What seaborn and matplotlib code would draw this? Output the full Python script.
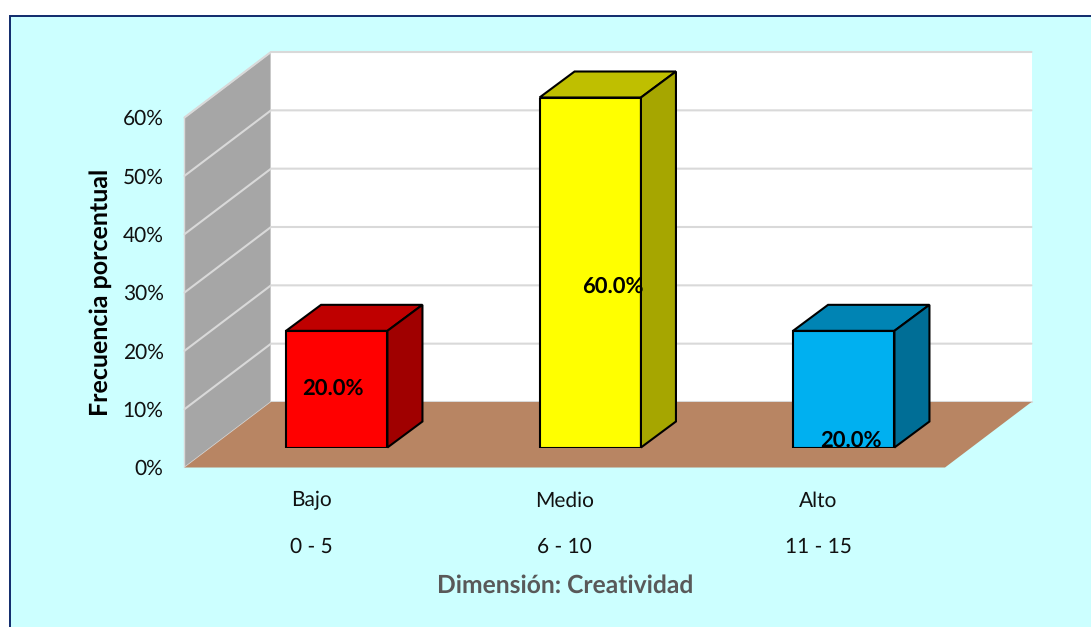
import numpy as np
import pandas as pd
import matplotlib
matplotlib.use("Agg")
import matplotlib.pyplot as plt
from matplotlib.patches import Polygon, Rectangle
import seaborn as sns

# datos
niveles = ["Bajo", "Medio", "Alto"]
rangos = ["0 - 5", "6 - 10", "11 - 15"]
porcentajes = [20.0, 60.0, 20.0]
ticks_y = [0, 10, 20, 30, 40, 50, 60]

colores = ["#FF0000", "#FFFF00", "#00B0F0"]
colores_top = ["#BF0000", "#BFBF00", "#0084B4"]
colores_lado = ["#A00000", "#A6A600", "#006E96"]

sns.set_style("white")
plt.rcParams["font.family"] = ["Lato", "DejaVu Sans"]
plt.rcParams["text.hinting"] = "no_hinting"

W, H = 1091, 627
fig = plt.figure(figsize=(W / 100, H / 100), dpi=100, facecolor="white")


def caja(x0, x1, y_top, y_bottom):
    # pixeles de la imagen -> rect de figura
    return [x0 / W, 1 - y_bottom / H, (x1 - x0) / W, (y_bottom - y_top) / H]


# fondo del grafico, se sale por la derecha y por abajo
fig.add_artist(Rectangle((9.5 / W, -0.05), 1.1, 1.05 - 15.5 / H, transform=fig.transFigure,
                         facecolor="#CCFFFF", edgecolor="#0F2A6B", linewidth=1.4, zorder=-1))

ax = fig.add_axes(caja(184.5, 945, 117.5, 467.5))
ax.set_facecolor("none")
ax.set_xlim(-0.5, 2.5)
ax.set_ylim(0, 60)

# escalas en px por unidad de datos
px_x = (945 - 184.5) / 3
px_y = 350 / 60
wall_dx, wall_dy = 86.5 / px_x, 65.5 / px_y
bar_dx, bar_dy = 35 / px_x, 26 / px_y

GRIS_GRID = "#D9D9D9"
x0, x1 = ax.get_xlim()

# pared lateral, pared del fondo y piso
ax.add_patch(Polygon([(x0, 0), (x0, 60), (x0 + wall_dx, 60 + wall_dy), (x0 + wall_dx, wall_dy)],
                     closed=True, facecolor="#A6A6A6", edgecolor=GRIS_GRID, linewidth=1, clip_on=False, zorder=1))
ax.add_patch(Polygon([(x0 + wall_dx, wall_dy), (x0 + wall_dx, 60 + wall_dy), (x1 + wall_dx, 60 + wall_dy), (x1 + wall_dx, wall_dy)],
                     closed=True, facecolor="white", edgecolor="none", clip_on=False, zorder=1))
ax.add_patch(Polygon([(x0, 0), (x0 + wall_dx, wall_dy), (x1 + wall_dx, wall_dy), (x1, 0)],
                     closed=True, facecolor="#B88563", edgecolor="none", clip_on=False, zorder=2))
for t in ticks_y[1:]:
    ax.plot([x0, x0 + wall_dx, x1 + wall_dx], [t, t + wall_dy, t + wall_dy], color=GRIS_GRID,
            linewidth=1.5, clip_on=False, zorder=1.5)
ax.plot([x0 + wall_dx, x1 + wall_dx], [wall_dy, wall_dy], color=GRIS_GRID, linewidth=1.5, clip_on=False, zorder=1.5)

ax.set_yticks(ticks_y)
ax.set_yticklabels([f"{t}%" for t in ticks_y])
ax.set_xticks(range(len(niveles)))
ax.set_xticklabels([f"{n}\n{r}" for n, r in zip(niveles, rangos)], linespacing=2.75)
ax.tick_params(axis="y", length=0, pad=15, labelsize=15, labelcolor="#111111")
ax.tick_params(axis="x", length=0, pad=17, labelsize=15, labelcolor="#111111")
ax.set_xlabel("Dimensión: Creatividad", fontsize=17.7, fontweight="bold", color="#595959", labelpad=13)
ax.set_ylabel("Frecuencia porcentual", fontsize=18, fontweight="bold", color="black", labelpad=8)
sns.despine(ax=ax, left=True, bottom=True)

# barras sobre un eje desplazado, plano medio de la profundidad
ax2 = fig.add_axes(caja(184.5 + 25.5, 945 + 25.5, 97.5, 447.5))
ax2.set_facecolor("none")
df = pd.DataFrame({"nivel": niveles, "pct": porcentajes})
sns.barplot(data=df, x="nivel", y="pct", hue="nivel", palette=colores, legend=False, order=niveles,
            width=0.4, edgecolor="black", linewidth=1.5, saturation=1, ax=ax2)
ax2.set_xlim(-0.5, 2.5)
ax2.set_ylim(0, 60)
ax2.axis("off")

for barra, c_top, c_lado in zip(list(ax2.patches), colores_top, colores_lado):
    xa, xb = barra.get_x(), barra.get_x() + barra.get_width()
    h = barra.get_height()
    ax2.add_patch(Polygon([(xa, h), (xa + bar_dx, h + bar_dy), (xb + bar_dx, h + bar_dy), (xb, h)], closed=True,
                          facecolor=c_top, edgecolor="black", linewidth=1.5, clip_on=False))
    ax2.add_patch(Polygon([(xb, 0), (xb + bar_dx, bar_dy), (xb + bar_dx, h + bar_dy), (xb, h)], closed=True,
                          facecolor=c_lado, edgecolor="black", linewidth=1.5, clip_on=False))

# etiquetas movidas a mano en el original
pos_x = [0 - 0.015, 1 + 0.09, 2 + 0.03]
pos_y = [10.1, 27.6, 1.2]
for xp, yp, v in zip(pos_x, pos_y, porcentajes):
    ax2.text(xp, yp, f"{v:.1f}%", ha="center", va="center", fontsize=15.8, fontweight="bold", color="black", zorder=10)

fig.savefig("out.png", dpi=100)
